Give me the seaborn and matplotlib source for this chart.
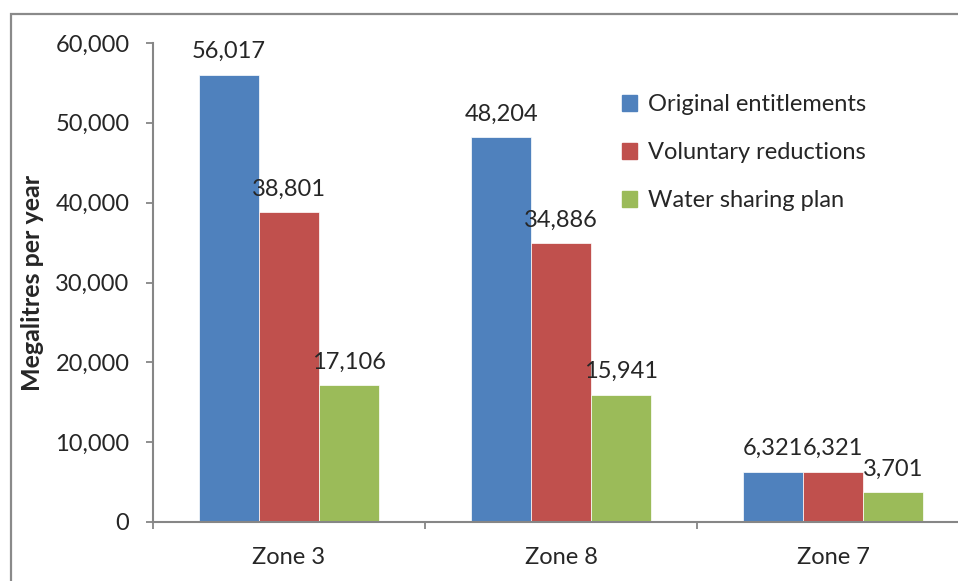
import matplotlib
matplotlib.use("Agg")
import matplotlib.pyplot as plt
import matplotlib.patches as mpatches
from matplotlib.ticker import FuncFormatter, FixedLocator
import seaborn as sns
import pandas as pd

zones = ["Zone 3", "Zone 8", "Zone 7"]
series = ["Original entitlements", "Voluntary reductions", "Water sharing plan"]
original = [56017, 48204, 6321]
voluntary = [38801, 34886, 6321]
sharing_plan = [17106, 15941, 3701]
colors = ["#4F81BD", "#C0504D", "#9BBB59"]

df = pd.DataFrame({
    "zone": zones * 3,
    "series": [series[0]] * 3 + [series[1]] * 3 + [series[2]] * 3,
    "value": original + voluntary + sharing_plan,
})

sns.set_style("white")
plt.rcParams["font.family"] = ["Lato", "DejaVu Sans"]
FS = 17

W, H = 958, 581
fig = plt.figure(figsize=(W / 100, H / 100), dpi=100)
ax = fig.add_axes([153 / W, (H - 522) / H, 816 / W, 479 / H])

sns.barplot(data=df, x="zone", y="value", hue="series", order=zones,
            hue_order=series, palette=colors, saturation=1, width=0.66, gap=0,
            edgecolor="white", linewidth=0.5, ax=ax, legend=True)

ax.set_xlim(-0.5, 2.5)
ax.set_ylim(0, 60000)
ax.set_yticks(range(0, 60001, 10000))
ax.yaxis.set_major_formatter(FuncFormatter(lambda v, _: f"{int(v):,}"))

spine_c = "#868686"
for s in ["top", "right"]:
    ax.spines[s].set_visible(False)
for s in ["left", "bottom"]:
    ax.spines[s].set_color(spine_c)
    ax.spines[s].set_linewidth(1.5)

ax.tick_params(axis="y", which="major", direction="out", length=5, width=1.3,
               color=spine_c, labelsize=FS, pad=12, left=True)
ax.tick_params(axis="x", which="major", length=0, labelsize=FS, pad=18)
ax.xaxis.set_minor_locator(FixedLocator([-0.5, 0.5, 1.5, 2.5]))
ax.tick_params(axis="x", which="minor", direction="out", length=5, width=1.3,
               color=spine_c, bottom=True)

ax.set_xlabel("")
ax.set_ylabel("Megalitres per year", fontsize=FS + 1, fontweight="bold")
ax.yaxis.set_label_coords(-0.134, 0.5)

for cont in ax.containers:
    ax.bar_label(cont, labels=[f"{int(v):,}" for v in cont.datavalues],
                 padding=9, fontsize=FS)

handles = [mpatches.Patch(color=c) for c in colors]
ax.legend(handles, series, loc="upper left", bbox_to_anchor=(622 / W, 1 - 94 / H),
          bbox_transform=fig.transFigure, frameon=False, fontsize=FS,
          handlelength=0.65, handleheight=0.65, handletextpad=0.45,
          labelspacing=1.15, borderaxespad=0, borderpad=0)

# outer chart frame
fig.patches.append(mpatches.Rectangle((11 / W, -0.2), 1.2, 0.2 + (H - 14) / H,
                                      transform=fig.transFigure, fill=False,
                                      edgecolor="#8a8a8a", linewidth=1.6))

fig.savefig("out.png", dpi=100)
